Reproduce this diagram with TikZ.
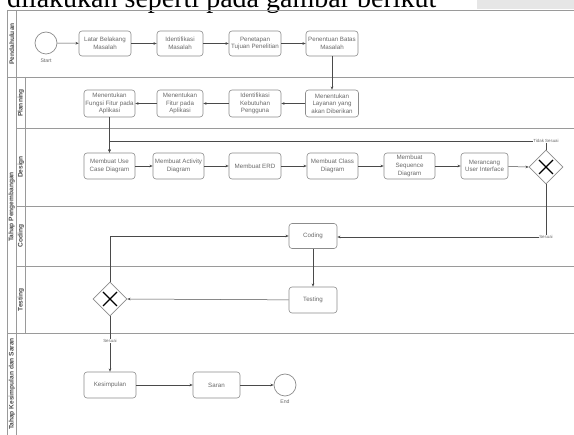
\documentclass[tikz,border=0pt]{standalone}
\usepackage{fontspec}
\setmainfont{Liberation Sans}
\newfontfamily\capfont{Liberation Serif}
\usetikzlibrary{arrows.meta,shapes.geometric}
\definecolor{boxgray}{HTML}{8C8C8C}
\definecolor{txtgray}{HTML}{6A6A6A}
\definecolor{lanegray}{HTML}{9A9A9A}
\definecolor{flowgray}{HTML}{4A4A4A}
\definecolor{capgray}{HTML}{E6E6E6}
\tikzset{
  task/.style={draw=boxgray, line width=0.6pt, rounded corners=3pt, fill=white,
    minimum height=25pt, align=center, inner sep=0pt, text=txtgray,
    font=\fontsize{6.2}{7.6}\selectfont},
  event/.style={circle, draw=boxgray, line width=0.7pt, minimum size=22pt, inner sep=0pt, fill=white},
  gate/.style={diamond, aspect=1, draw=boxgray, line width=0.6pt, minimum width=34pt, minimum height=34pt, inner sep=0pt, fill=white},
  flow/.style={draw=flowgray, line width=0.5pt, -{Stealth[length=3.2pt,width=2.6pt]}},
  lane/.style={draw=lanegray, line width=0.7pt},
  lanelbl/.style={rotate=90, font=\bfseries\fontsize{6.6}{7.5}\selectfont, text=flowgray, inner sep=0pt},
  elbl/.style={font=\fontsize{4.4}{5}\selectfont, text=txtgray, fill=white, inner sep=0.6pt},
  evlbl/.style={font=\fontsize{5.2}{6}\selectfont, text=txtgray, inner sep=0pt},
}
\begin{document}
\begin{tikzpicture}[x=1pt,y=-1pt]
\useasboundingbox (0,0) rectangle (574,435);
\fill[white] (0,0) rectangle (574,435);
% caption fragment
\fill[capgray] (477,-2) rectangle (576,9);
\node[anchor=base west, inner sep=0pt, font=\capfont\fontsize{28}{32}\selectfont] (cap) at (7,7.3) {dilakukan seperti pada gambar berikut};
% lanes
\draw[lane] (7,10) -- (576,10);
\draw[lane] (7,10) -- (7,437);
\draw[lane] (16,10) -- (16,437);
\draw[lane] (7,77) -- (576,77);
\draw[lane] (25,77) -- (25,333);
\draw[lane] (16,128) -- (576,128);
\draw[lane] (16,206) -- (576,206);
\draw[lane] (16,266) -- (576,266);
\draw[lane] (7,333) -- (576,333);
\node[lanelbl] (lp) at (11.8,44) {Pendahuluan};
\node[lanelbl] (lt) at (11.8,207) {Tahap Pengembangan};
\node[lanelbl] (lk) at (11.8,384) {Tahap Kesimpulan dan Saran};
\node[lanelbl] (lpl) at (21,103) {Planning};
\node[lanelbl] (lde) at (21,167) {Design};
\node[lanelbl] (lco) at (21,236) {Coding};
\node[lanelbl] (lte) at (21,300) {Testing};
% nodes
\node[event] (st) at (46,43) {};
\node[evlbl] (stl) at (46,60.5) {Start};
\node[task, minimum width=52pt] (n1) at (105,43.5) {Latar Belakang\\Masalah};
\node[task, minimum width=46pt] (n2) at (180,43.5) {Identifikasi\\Masalah};
\node[task, minimum width=52pt] (n3) at (255,43.5) {Penetapan\\Tujuan Penelitian};
\node[task, minimum width=52pt] (n4) at (332,43.5) {Penentuan Batas\\Masalah};
\node[task, minimum width=53pt, minimum height=27pt] (n5) at (332,103.5) {Menentukan\\Layanan yang\\akan Diberikan};
\node[task, minimum width=52pt, minimum height=27pt] (n6) at (255,103.5) {Identifikasi\\Kebutuhan\\Pengguna};
\node[task, minimum width=46pt, minimum height=27pt] (n7) at (180,103.5) {Menentukan\\Fitur pada\\Aplikasi};
\node[task, minimum width=51pt, minimum height=27pt] (n8) at (109.5,103.5) {Menentukan\\Fungsi Fitur pada\\Aplikasi};
\node[task, minimum width=51pt, minimum height=26pt] (d1) at (109.5,166) {Membuat Use\\Case Diagram};
\node[task, minimum width=51pt, minimum height=26pt] (d2) at (178.5,166) {Membuat Activity\\Diagram};
\node[task, minimum width=52pt, minimum height=26pt] (d3) at (255,166) {Membuat ERD};
\node[task, minimum width=51pt, minimum height=26pt] (d4) at (332.5,166) {Membuat Class\\Diagram};
\node[task, minimum width=51pt, minimum height=26pt] (d5) at (409.5,166) {Membuat\\Sequence\\Diagram};
\node[task, minimum width=47pt, minimum height=26pt] (d6) at (484.5,166) {Merancang\\User Interface};
\node[gate] (g1) at (546,167) {};
\draw[black, line width=1.1pt] ([shift={(-7,-7)}]g1.center) -- ([shift={(7,7)}]g1.center) ([shift={(-7,7)}]g1.center) -- ([shift={(7,-7)}]g1.center);
\node[task, minimum width=48pt, minimum height=25pt] (c1) at (313,236) {Coding};
\node[task, minimum width=48pt, minimum height=26pt] (t1) at (313,300) {Testing};
\node[gate] (g2) at (110,299) {};
\draw[black, line width=1.1pt] ([shift={(-7,-7)}]g2.center) -- ([shift={(7,7)}]g2.center) ([shift={(-7,7)}]g2.center) -- ([shift={(7,-7)}]g2.center);
\node[task, minimum width=52pt, minimum height=26pt] (k1) at (110,385) {Kesimpulan};
\node[task, minimum width=47pt, minimum height=26pt] (s1) at (216.5,385) {Saran};
\node[event] (en) at (285,385) {};
\node[evlbl] (enl) at (285,402) {End};
% flows
\draw[flow] (st) -- (n1);
\draw[flow] (n1) -- (n2);
\draw[flow] (n2) -- (n3);
\draw[flow] (n3) -- (n4);
\draw[flow] (n4) -- (n5);
\draw[flow] (n5) -- (n6);
\draw[flow] (n6) -- (n7);
\draw[flow] (n7) -- (n8);
\draw[flow] (n8) -- (d1);
\draw[flow] (d1) -- (d2);
\draw[flow] (d2) -- (d3);
\draw[flow] (d3) -- (d4);
\draw[flow] (d4) -- (d5);
\draw[flow] (d5) -- (d6);
\draw[flow] (d6) -- (g1.west);
\coordinate (ts) at (546,141);
\draw[flow] (g1.north) -- (ts) -| (d1.north);
\node[elbl] (tsl) at (ts) {Tidak Sesuai};
\coordinate (ss) at (546,237);
\draw[flow] (g1.south) -- (ss) -- (c1.east |- ss);
\node[elbl] (ssl) at (ss) {Sesuai};
\draw[flow] (c1) -- (t1);
\draw[flow] (t1) -- (g2.east);
\coordinate (tt) at (110,236);
\draw[flow] (g2.north) -- (tt) -- (c1.west);
\draw[flow] (g2.south) -- (k1.north);
\node[elbl] (sl2) at (110,341) {Sesuai};
\draw[flow] (k1) -- (s1);
\draw[flow] (s1) -- (en);
\end{tikzpicture}
\end{document}
